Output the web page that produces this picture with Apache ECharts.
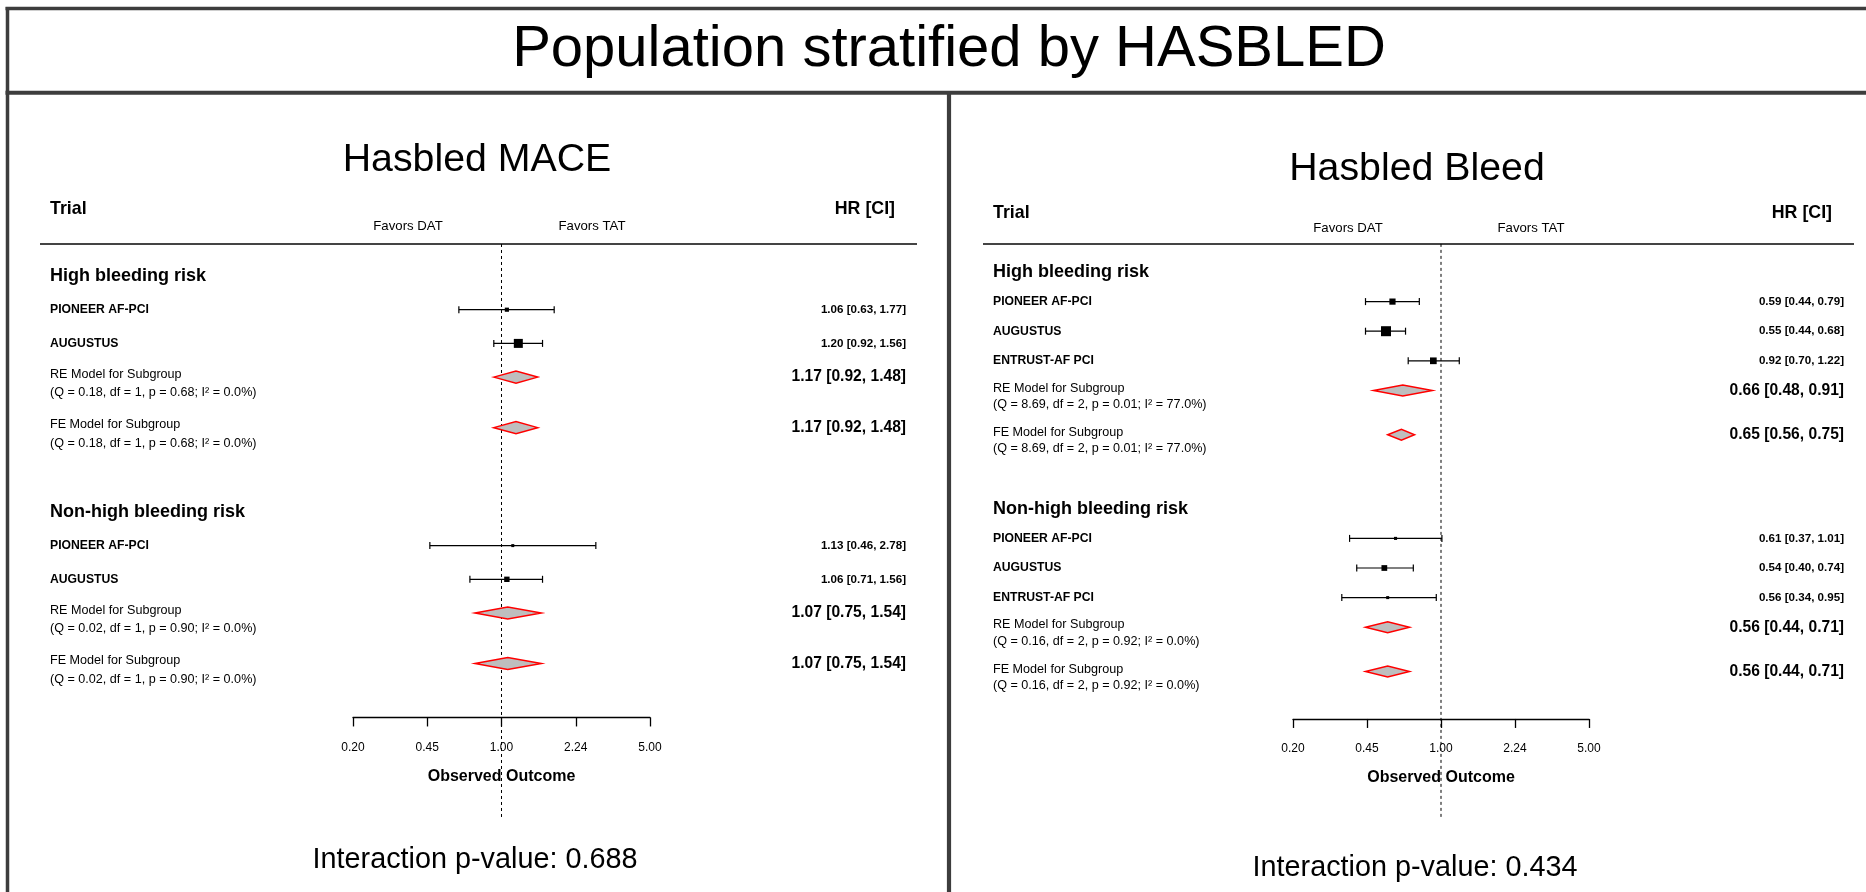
<!DOCTYPE html>
<html><head><meta charset="utf-8">
<script src="https://cdn.jsdelivr.net/npm/echarts@6/dist/echarts.min.js"></script>
<style>html,body{margin:0;padding:0;background:#fff}#c{width:1866px;height:892px}</style>
</head><body><div id="c"></div>
<script>
// ================= DATA =================
const mainTitle = 'Population stratified by HASBLED';
const panelTitles = ['Hasbled MACE', 'Hasbled Bleed'];
const interactionText = ['Interaction p-value: 0.688', 'Interaction p-value: 0.434'];
const subgroupNames = ['High bleeding risk', 'Non-high bleeding risk'];
const modelLabels = ['RE Model for Subgroup', 'FE Model for Subgroup'];
const favorsLabels = ['Favors DAT', 'Favors TAT'];
const refValue = 1;
const tickFormatDigits = 2;

// Panel 1: Hasbled MACE
const maceStudies = ['PIONEER AF-PCI', 'AUGUSTUS', 'PIONEER AF-PCI', 'AUGUSTUS'];
const maceStudyGroup = [0, 0, 1, 1];
const maceHR = [1.06, 1.20, 1.13, 1.06];
const maceLo = [0.63, 0.92, 0.46, 0.71];
const maceHi = [1.77, 1.56, 2.78, 1.56];
// models per group: [RE, FE]
const maceModelHR = [[1.17, 1.17], [1.07, 1.07]];
const maceModelLo = [[0.92, 0.92], [0.75, 0.75]];
const maceModelHi = [[1.48, 1.48], [1.54, 1.54]];
const maceQ = [0.18, 0.02];
const maceDf = [1, 1];
const maceP = [0.68, 0.90];
const maceI2 = [0.0, 0.0];

// Panel 2: Hasbled Bleed
const bleedStudies = ['PIONEER AF-PCI', 'AUGUSTUS', 'ENTRUST-AF PCI', 'PIONEER AF-PCI', 'AUGUSTUS', 'ENTRUST-AF PCI'];
const bleedStudyGroup = [0, 0, 0, 1, 1, 1];
const bleedHR = [0.59, 0.55, 0.92, 0.61, 0.54, 0.56];
const bleedLo = [0.44, 0.44, 0.70, 0.37, 0.40, 0.34];
const bleedHi = [0.79, 0.68, 1.22, 1.01, 0.74, 0.95];
const bleedModelHR = [[0.66, 0.65], [0.56, 0.56]];
const bleedModelLo = [[0.48, 0.56], [0.44, 0.44]];
const bleedModelHi = [[0.91, 0.75], [0.71, 0.71]];
const bleedQ = [8.69, 0.16];
const bleedDf = [2, 2];
const bleedP = [0.01, 0.92];
const bleedI2 = [77.0, 0.0];

// ================= LAYOUT / STYLE =================
const FONT = '"Liberation Sans", Arial, Helvetica, sans-serif';
const frameColor = '#3d3d3d';

const layouts = [
  { gridLeft: 353, gridWidth: 297, row0: 276, unit: 33.7, yMin: -1, yMax: 13.1,
    labelX: 50, hrX: 906, sizeMin: 3, sizeMax: 9, diamondHalf: 6,
    refTop: -0.95, refBottom: 16.08,
    titleX: 477, titleY: 160, trialY: 209, trialX: 50, hrHeadX: 895, favorsY: 226,
    favorsX: [408, 592], ruleY: 244, ruleX: [40, 917],
    interX: 475, interY: 860, axisMargin: 24, nameGap: 51 },
  { gridLeft: 1293, gridWidth: 296, row0: 272, unit: 29.6, yMin: -1, yMax: 15.1,
    labelX: 993, hrX: 1844, sizeMin: 3, sizeMax: 10, diamondHalf: 5.5,
    refTop: -0.95, refBottom: 18.5,
    titleX: 1417, titleY: 169, trialY: 213, trialX: 993, hrHeadX: 1832, favorsY: 228,
    favorsX: [1348, 1531], ruleY: 244, ruleX: [983, 1854],
    interX: 1415, interY: 868, axisMargin: 24, nameGap: 51 }
];

function ciText(h, l, u) {
  return h.toFixed(2) + ' [' + l.toFixed(2) + ', ' + u.toFixed(2) + ']';
}
function qText(q, df, p, i2) {
  return '(Q = ' + q.toFixed(2) + ', df = ' + df + ', p = ' + p.toFixed(2) + '; I\u00B2 = ' + i2.toFixed(1) + '%)';
}

function buildPanel(studies, grp, hr, lo, hi, mHR, mLo, mHi, Q, Df, Pv, I2, L) {
  const rows = [];
  const studyRows = [];
  const models = [];
  let cur = 0;
  const nGroups = mHR.length;
  for (let g = 0; g < nGroups; g++) {
    rows.push({ kind: 'head', row: cur, text: subgroupNames[g] });
    let r = cur;
    for (let i = 0; i < studies.length; i++) {
      if (grp[i] !== g) continue;
      r += 1;
      studyRows[i] = r;
      rows.push({ kind: 'study', row: r, text: studies[i], hr: ciText(hr[i], lo[i], hi[i]) });
    }
    const reRow = r + 1, feRow = reRow + 1.5;
    [reRow, feRow].forEach((mr, k) => {
      models.push([mHR[g][k], mr, mLo[g][k], mHi[g][k]]);
      rows.push({ kind: 'model', row: mr, text: modelLabels[k],
        sub: qText(Q[g], Df[g], Pv[g], I2[g]), hr: ciText(mHR[g][k], mLo[g][k], mHi[g][k]) });
    });
    cur = feRow + 2.5;
  }
  const w = studies.map((_, i) => { const se = (Math.log(hi[i]) - Math.log(lo[i])) / 3.92; return 1 / (se * se); });
  const wmin = Math.min(...w), wmax = Math.max(...w);
  const sizes = w.map(v => L.sizeMin + (L.sizeMax - L.sizeMin) * (v - wmin) / (wmax - wmin));
  return { rows, studyRows, models, sizes, hr, lo, hi };
}

const panels = [
  buildPanel(maceStudies, maceStudyGroup, maceHR, maceLo, maceHi, maceModelHR, maceModelLo, maceModelHi, maceQ, maceDf, maceP, maceI2, layouts[0]),
  buildPanel(bleedStudies, bleedStudyGroup, bleedHR, bleedLo, bleedHi, bleedModelHR, bleedModelLo, bleedModelHi, bleedQ, bleedDf, bleedP, bleedI2, layouts[1])
];

function txt(x, y, text, size, weight, align) {
  return { type: 'text', x: x, y: y, silent: true,
    style: { text: text, fontSize: size, fontWeight: weight, fontFamily: FONT, fill: '#000',
      align: align, textAlign: align, verticalAlign: 'middle', textVerticalAlign: 'middle' } };
}
function seg(x1, y1, x2, y2, color, w) {
  return { type: 'line', silent: true, shape: { x1, y1, x2, y2 }, style: { stroke: color, lineWidth: w } };
}

const grids = [], xAxes = [], yAxes = [], series = [], graphics = [];

panels.forEach((P, pi) => {
  const L = layouts[pi];
  const top = L.row0 + L.yMin * L.unit;
  const height = (L.yMax - L.yMin) * L.unit;
  grids.push({ left: L.gridLeft, width: L.gridWidth, top: top, height: height, containLabel: false });
  xAxes.push({
    type: 'log', logBase: Math.sqrt(5), min: 0.2, max: 5, gridIndex: pi, position: 'bottom',
    name: 'Observed Outcome', nameLocation: 'middle', nameGap: L.nameGap,
    nameTextStyle: { fontFamily: FONT, fontSize: 16, fontWeight: 'bold', color: '#000' },
    axisLine: { show: true, onZero: false, lineStyle: { color: '#000', width: 1.3 } },
    axisTick: { show: true, length: 9, lineStyle: { color: '#000', width: 1.3 } },
    axisLabel: { fontFamily: FONT, fontSize: 12, color: '#000', margin: L.axisMargin,
      formatter: v => Number(v).toFixed(tickFormatDigits), showMinLabel: true, showMaxLabel: true },
    splitLine: { show: false }, minorTick: { show: false }
  });
  yAxes.push({ type: 'value', gridIndex: pi, min: L.yMin, max: L.yMax, inverse: true, show: false });

  series.push({ type: 'line', xAxisIndex: pi, yAxisIndex: pi, silent: true, clip: false, z: 1,
    symbol: 'none', data: [[refValue, L.refTop], [refValue, L.refBottom]],
    lineStyle: { color: '#000', width: 1, type: [3, 3] } });

  series.push({ type: 'custom', xAxisIndex: pi, yAxisIndex: pi, silent: true, clip: false, z: 3,
    data: P.hr.map((h, i) => [h, P.studyRows[i], P.lo[i], P.hi[i]]),
    encode: { x: 0, y: 1 },
    renderItem: (params, api) => {
      const row = api.value(1);
      const c = api.coord([api.value(0), row]);
      const l = api.coord([api.value(2), row]);
      const h = api.coord([api.value(3), row]);
      const s = P.sizes[params.dataIndex];
      const cap = 3.5;
      const ls = () => ({ stroke: '#000', lineWidth: 1.2 });
      return { type: 'group', children: [
        { type: 'line', shape: { x1: l[0], y1: c[1], x2: h[0], y2: c[1] }, style: ls() },
        { type: 'line', shape: { x1: l[0], y1: c[1] - cap, x2: l[0], y2: c[1] + cap }, style: ls() },
        { type: 'line', shape: { x1: h[0], y1: c[1] - cap, x2: h[0], y2: c[1] + cap }, style: ls() },
        { type: 'rect', shape: { x: c[0] - s / 2, y: c[1] - s / 2, width: s, height: s }, style: { fill: '#000' } }
      ] };
    } });

  series.push({ type: 'custom', xAxisIndex: pi, yAxisIndex: pi, silent: true, clip: false, z: 4,
    data: P.models, encode: { x: 0, y: 1 },
    renderItem: (params, api) => {
      const row = api.value(1);
      const c = api.coord([api.value(0), row]);
      const l = api.coord([api.value(2), row]);
      const h = api.coord([api.value(3), row]);
      const d = L.diamondHalf;
      return { type: 'polygon',
        shape: { points: [[l[0], c[1]], [c[0], c[1] - d], [h[0], c[1]], [c[0], c[1] + d]] },
        style: { fill: '#bebebe', stroke: '#ff0000', lineWidth: 1.5 } };
    } });

  series.push({ type: 'custom', xAxisIndex: pi, yAxisIndex: pi, silent: true, clip: false, z: 5,
    data: P.rows.map(r => [refValue, r.row]), encode: { x: 0, y: 1 },
    renderItem: (params, api) => {
      const r = P.rows[params.dataIndex];
      const y = api.coord([refValue, r.row])[1];
      const ch = [];
      if (r.kind === 'head') {
        ch.push(txt(L.labelX, y, r.text, 18, 'bold', 'left'));
      } else if (r.kind === 'study') {
        ch.push(txt(L.labelX, y, r.text, 12.2, 'bold', 'left'));
        ch.push(txt(L.hrX, y, r.hr, 11.6, 'bold', 'right'));
      } else {
        const y1 = api.coord([refValue, r.row - 0.08])[1];
        const y2 = api.coord([refValue, r.row + 0.47])[1];
        ch.push(txt(L.labelX, y1, r.text, 12.6, 'normal', 'left'));
        ch.push(txt(L.labelX, y2, r.sub, 12.6, 'normal', 'left'));
        ch.push(txt(L.hrX, y, r.hr, 15.6, 'bold', 'right'));
      }
      return { type: 'group', children: ch };
    } });

  graphics.push(txt(L.titleX, L.titleY, panelTitles[pi], 39.3, 'normal', 'center'));
  graphics.push(txt(L.trialX, L.trialY, 'Trial', 17.8, 'bold', 'left'));
  graphics.push(txt(L.hrHeadX, L.trialY, 'HR [CI]', 17.8, 'bold', 'right'));
  graphics.push(txt(L.favorsX[0], L.favorsY, favorsLabels[0], 13.2, 'normal', 'center'));
  graphics.push(txt(L.favorsX[1], L.favorsY, favorsLabels[1], 13.2, 'normal', 'center'));
  graphics.push(seg(L.ruleX[0], L.ruleY, L.ruleX[1], L.ruleY, '#444', 2));
  graphics.push(txt(L.interX, L.interY, interactionText[pi], 28.8, 'normal', 'center'));
});

graphics.push(seg(5.5, 8.5, 1866, 8.5, frameColor, 3.5));
graphics.push(seg(7.5, 7, 7.5, 892, frameColor, 3.5));
graphics.push(seg(5.5, 92.7, 1866, 92.7, frameColor, 4));
graphics.push(seg(949, 92, 949, 892, frameColor, 4.2));
graphics.push(txt(949, 50, mainTitle, 58, 'normal', 'center'));

const chart = echarts.init(document.getElementById('c'), null, { renderer: 'canvas' });
chart.setOption({
  animation: false,
  backgroundColor: '#fff',
  grid: grids, xAxis: xAxes, yAxis: yAxes, series: series,
  graphic: { elements: graphics }
});
</script></body></html>
